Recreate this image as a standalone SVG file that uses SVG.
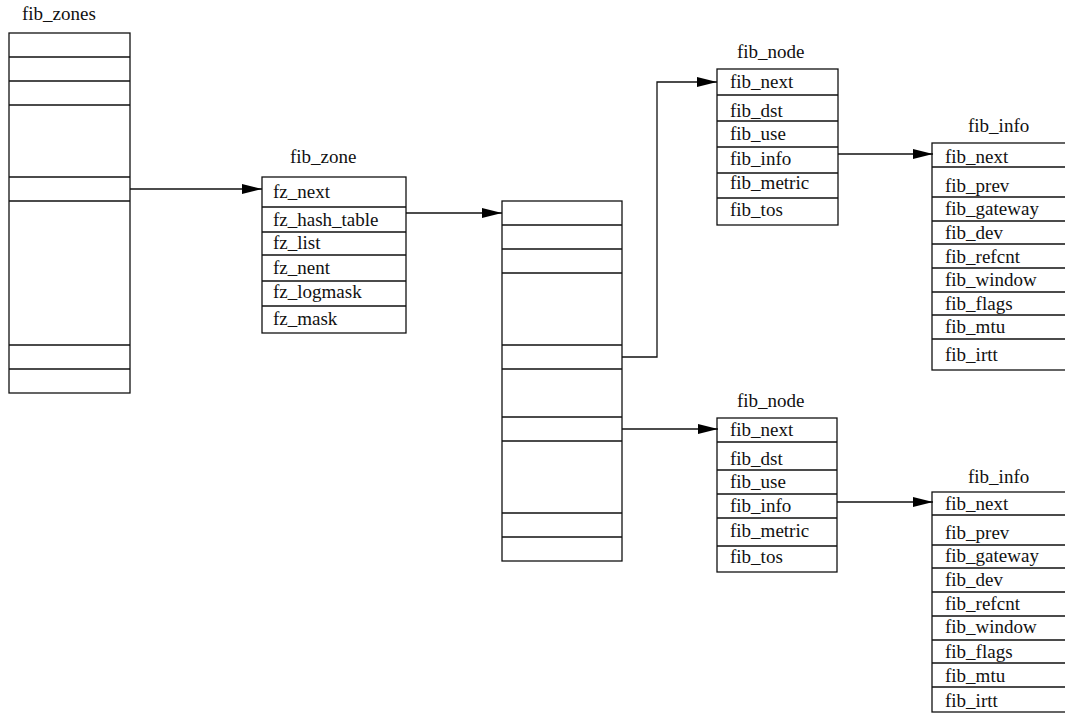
<svg xmlns="http://www.w3.org/2000/svg" width="1065" height="719" viewBox="0 0 1065 719">
<style>
.box{fill:#fff;stroke:#111;stroke-width:1.3}
.ln{stroke:#111;stroke-width:1.3;fill:none}
text{font-family:"Liberation Serif","Times New Roman",serif;font-size:19px;fill:#111}
</style>
<defs>
<marker id="ah" markerWidth="20" markerHeight="10" refX="20" refY="5" orient="auto" markerUnits="userSpaceOnUse">
<path d="M0,0 L20,5 L0,10 Z" fill="#000"/>
</marker>
</defs>
<rect width="1065" height="719" fill="#fff"/>

<g id="fib_zones">
<text x="22" y="20">fib_zones</text>
<rect class="box" x="9" y="33" width="121" height="360"/>
<path class="ln" d="M9,57H130M9,81H130M9,105H130M9,177H130M9,201H130M9,345H130M9,369H130"/>
</g>

<g id="fib_zone">
<text x="290" y="163">fib_zone</text>
<rect class="box" x="262" y="177" width="144" height="156"/>
<path class="ln" d="M262,207H406M262,232H406M262,255H406M262,281H406M262,306H406"/>
<text x="273" y="198">fz_next</text>
<text x="273" y="226">fz_hash_table</text>
<text x="273" y="249">fz_list</text>
<text x="273" y="274">fz_nent</text>
<text x="273" y="298">fz_logmask</text>
<text x="273" y="325">fz_mask</text>
</g>

<g id="hash_table">
<rect class="box" x="502" y="201" width="120" height="360"/>
<path class="ln" d="M502,225H622M502,249H622M502,273H622M502,345H622M502,369H622M502,417H622M502,441H622M502,513H622M502,537H622"/>
</g>

<g id="fib_node_1">
<text x="737" y="58">fib_node</text>
<rect class="box" x="717" y="69" width="121" height="156"/>
<path class="ln" d="M717,95H838M717,121H838M717,147H838M717,173H838M717,198H838"/>
<text x="730" y="88">fib_next</text>
<text x="730" y="117">fib_dst</text>
<text x="730" y="140">fib_use</text>
<text x="730" y="165">fib_info</text>
<text x="730" y="189">fib_metric</text>
<text x="730" y="216">fib_tos</text>
</g>

<g id="fib_node_2">
<text x="737" y="407">fib_node</text>
<rect class="box" x="717" y="418" width="120" height="154"/>
<path class="ln" d="M717,442H837M717,470H837M717,494H837M717,518H837M717,546H837"/>
<text x="730" y="436">fib_next</text>
<text x="730" y="465">fib_dst</text>
<text x="730" y="488">fib_use</text>
<text x="730" y="512">fib_info</text>
<text x="730" y="537">fib_metric</text>
<text x="730" y="563">fib_tos</text>
</g>

<g id="fib_info_1">
<text x="968" y="132">fib_info</text>
<rect class="box" x="932" y="143" width="150" height="227"/>
<path class="ln" d="M932,167H1082M932,197H1082M932,221H1082M932,244H1082M932,268H1082M932,292H1082M932,315H1082M932,339H1082"/>
<text x="945" y="163">fib_next</text>
<text x="945" y="192">fib_prev</text>
<text x="945" y="215">fib_gateway</text>
<text x="945" y="239">fib_dev</text>
<text x="945" y="263">fib_refcnt</text>
<text x="945" y="286">fib_window</text>
<text x="945" y="310">fib_flags</text>
<text x="945" y="333">fib_mtu</text>
<text x="945" y="361">fib_irtt</text>
</g>

<g id="fib_info_2">
<text x="968" y="483">fib_info</text>
<rect class="box" x="932" y="492" width="150" height="220"/>
<path class="ln" d="M932,515H1082M932,545H1082M932,568H1082M932,592H1082M932,616H1082M932,640H1082M932,663H1082M932,687H1082"/>
<text x="945" y="510">fib_next</text>
<text x="945" y="539">fib_prev</text>
<text x="945" y="562">fib_gateway</text>
<text x="945" y="586">fib_dev</text>
<text x="945" y="610">fib_refcnt</text>
<text x="945" y="633">fib_window</text>
<text x="945" y="658">fib_flags</text>
<text x="945" y="682">fib_mtu</text>
<text x="945" y="707">fib_irtt</text>
</g>

<g id="connectors">
<path class="ln" d="M130,189H262" marker-end="url(#ah)"/>
<path class="ln" d="M406,213H502" marker-end="url(#ah)"/>
<path class="ln" d="M622,357H657V82H717" marker-end="url(#ah)"/>
<path class="ln" d="M622,429H718" marker-end="url(#ah)"/>
<path class="ln" d="M838,154H933" marker-end="url(#ah)"/>
<path class="ln" d="M837,502H933" marker-end="url(#ah)"/>
</g>
</svg>
